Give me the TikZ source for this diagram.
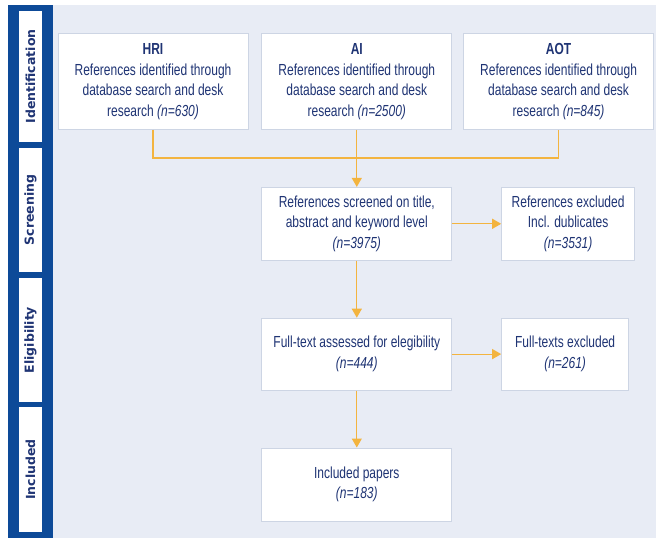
\documentclass[tikz,border=0pt]{standalone}
\usepackage{fontspec}
\setmainfont{Liberation Sans}[FakeStretch=0.75]
\newfontfamily\tabfont{DejaVu Sans}
\usetikzlibrary{arrows.meta, positioning}
\definecolor{navytext}{HTML}{1F3474}
\definecolor{barblue}{HTML}{0D4A98}
\definecolor{bgpanel}{HTML}{E8ECF5}
\definecolor{boxline}{HTML}{CDD5E4}
\definecolor{flowarrow}{HTML}{F3B43F}

\begin{document}
\begin{tikzpicture}[
    x=1pt, y=-1pt,
    node distance=13pt and 49pt,
    font=\fontsize{16}{20.5}\selectfont,
    % Styles
    phasebox/.style={rectangle, draw=boxline, fill=white, line width=0.8pt, text=navytext, align=center, minimum width=190pt, minimum height=96pt, inner sep=2pt},
    sidebox/.style={phasebox, minimum width=133pt, minimum height=73pt},
    phasetab/.style={rectangle, fill=white, rotate=90, minimum height=23pt, inner sep=0pt, text=navytext, font=\tabfont\bfseries\fontsize{12.5}{13}\selectfont},
    arrow/.style={-{Triangle[width=10pt,length=9pt]}, line width=1.2pt, draw=flowarrow},
    joinline/.style={line width=1.2pt, draw=flowarrow}
]
\useasboundingbox (0,0) rectangle (656,538);

% ------------------- BACKGROUND AND PHASE BAR -------------------
\fill[bgpanel] (53,5) rectangle (656,538);
\fill[barblue] (8,5) rectangle (53,538);
\node[phasetab, minimum width=131pt] (t1) at (30.5,76.5) {Identification};
\node[phasetab, minimum width=124pt] (t2) at (30.5,210) {Screening};
\node[phasetab, minimum width=124pt] (t3) at (30.5,340) {Eligibility};
\node[phasetab, minimum width=125pt] (t4) at (30.5,469.5) {Included};

% ------------------- IDENTIFICATION -------------------
\node[phasebox] (hri) at (153,81.5) {\textbf{HRI}\\References identified through\\database search and desk\\research \textit{(n=630)}};
\node[phasebox, right=13pt of hri] (ai) {\textbf{AI}\\References identified through\\database search and desk\\research \textit{(n=2500)}};
\node[phasebox, right=11pt of ai] (aot) {\textbf{AOT}\\References identified through\\database search and desk\\research \textit{(n=845)}};

% ------------------- SCREENING -------------------
\node[phasebox, minimum height=73pt, below=57pt of ai] (screen) {References screened on title,\\abstract and keyword level\\\textit{(n=3975)}};
\node[sidebox, right=49pt of screen] (excl1) {References excluded\\Incl. dublicates\\\textit{(n=3531)}};

% ------------------- ELIGIBILITY -------------------
\node[phasebox, minimum height=72pt, below=57pt of screen] (full) {Full-text assessed for elegibility\\\textit{(n=444)}};
\node[sidebox, minimum width=127pt, minimum height=72pt, right=49pt of full] (excl2) {Full-texts excluded\\\textit{(n=261)}};

% ------------------- INCLUDED -------------------
\node[phasebox, minimum height=73pt, below=57pt of full] (incl) {Included papers\\\textit{(n=183)}};

% ------------------- CONNECTORS -------------------
\coordinate (join) at ([yshift=-28pt]ai.south);
\draw[joinline] (hri.south) |- (join) -| (aot.south);
\draw[arrow] (ai.south) -- (screen.north);
\draw[arrow] (screen.east) -- (excl1.west);
\draw[arrow] (screen.south) -- (full.north);
\draw[arrow] (full.east) -- (excl2.west);
\draw[arrow] (full.south) -- (incl.north);

\end{tikzpicture}
\end{document}
